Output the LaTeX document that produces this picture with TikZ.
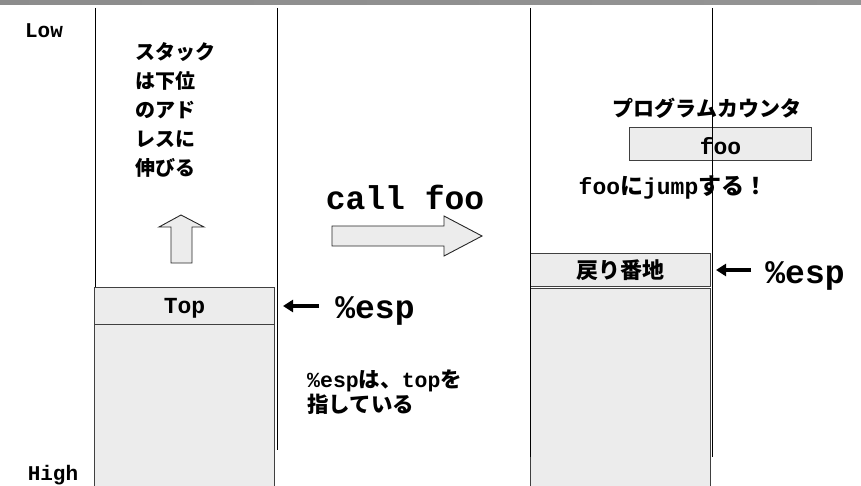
\documentclass[tikz,border=0pt]{standalone}
\usepackage{fontspec}
\setmonofont{Liberation Mono}
\newfontfamily\jpfont{Noto Sans CJK JP}
\usetikzlibrary{arrows.meta}
\newcommand\mtx[1]{{\ttfamily\bfseries #1}}
\newcommand\jtx[1]{{\jpfont\bfseries #1}}
\definecolor{cellfill}{HTML}{ECECEC}
\definecolor{cellline}{HTML}{404040}

\begin{document}
\begin{tikzpicture}[x=1pt,y=-1pt,
  wall/.style={draw=black, line width=1pt},
  cell/.style={draw=cellline, fill=cellfill, line width=1pt, inner sep=0pt, anchor=north west},
  bigarrow/.style={draw=black!85, fill=cellfill, line width=0.9pt, line join=miter},
  ptr/.style={line width=4.5pt, -{Triangle[length=10pt,width=12pt]}},
  mono/.style={font=\ttfamily\bfseries\fontsize{#1}{#1}\selectfont, inner sep=2pt},
  jp/.style={font=\jpfont\bfseries\fontsize{#1}{#1}\selectfont, inner sep=2pt}]
\useasboundingbox (0,0) rectangle (861,486);
\clip (0,0) rectangle (861,486);

% title bar
\shade[left color=black!45, middle color=black!17, right color=black!42] (0,0) rectangle (861,5);

% ---- stack before the call ----
\draw[wall] (95,8) -- (95,450);
\draw[wall] (277,8) -- (277,450);
\node[cell, minimum width=180pt, minimum height=200pt] (restL) at (94,324) {};
\node[cell, minimum width=180pt, minimum height=37pt] (topcell) at (94,287) {};
\node[mono=23] (toptext) at ([yshift=-2pt]topcell.center) {Top};

\node[mono=21] (low) at (44,31) {Low};
\node[mono=21, anchor=base] (high) at (53,480) {High};

\node[align=left, anchor=north west, font=\jpfont\bfseries\fontsize{20}{29}\selectfont, inner sep=2pt] (grow) at (133,40)
  {スタック\\は下位\\のアド\\レスに\\伸びる};

% growth direction
\draw[bigarrow] (181,215) -- (204,227) -- (192,227) -- (192,263) -- (171,263) -- (171,227) -- (159,227) -- cycle;

\node[mono=33] (esp1) at (375,311) {\%esp};
\draw[ptr, shorten <=14pt, shorten >=8pt] (esp1.west |- topcell.east) -- (topcell.east);

\node[align=left, anchor=north west, font=\fontsize{21.5}{25}\selectfont, inner sep=0pt] (note) at (307,370)
  {\mtx{\%esp}\jtx{は、}\mtx{top}\jtx{を}\\\jtx{指している}};

% ---- the call ----
\node[mono=33] (call) at (405,197) {call foo};
\draw[bigarrow] (332,226) -- (444,226) -- (444,216) -- (482,236) -- (444,256) -- (444,246) -- (332,246) -- cycle;

% ---- stack after the call ----
\node[cell, minimum width=180pt, minimum height=200pt] (restR) at (530,288) {};
\node[cell, minimum width=180pt, minimum height=33pt, jp=22] (ret) at (530,253) {戻り番地};

\node[jp=21] (pclabel) at (707,108) {プログラムカウンタ};
\node[cell, minimum width=182pt, minimum height=33pt] (pc) at (629,127) {};
\node[mono=23] (pctext) at ([yshift=-2pt]pc.center) {foo};
\node[font=\fontsize{23}{26}\selectfont] (jump) at (673,188) {\mtx{foo}\jtx{に}\mtx{jump}\jtx{する！}};

\draw[wall] (530,8) -- (530,457);
\draw[wall] (712,8) -- (712,457);

\node[mono=33] (esp2) at (805,276) {\%esp};
\draw[ptr, shorten <=12pt, shorten >=5pt] (esp2.west |- ret.east) -- (ret.east);
\end{tikzpicture}
\end{document}
